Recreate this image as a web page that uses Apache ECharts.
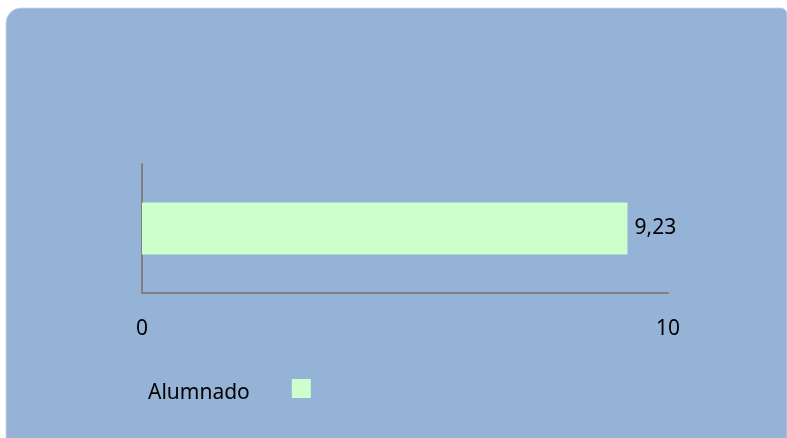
<!DOCTYPE html>
<html>
<head>
<meta charset="utf-8">
<script src="https://cdn.jsdelivr.net/npm/echarts@6/dist/echarts.min.js"></script>
<style>
html,body{margin:0;padding:0;background:#ffffff;}
#chart{width:787px;height:438px;}
</style>
</head>
<body>
<div id="chart"></div>
<script>
const categories = ['Alumnado'];
const seriesName = 'Alumnado';
const values = [9.23];
const xTicks = [0, 10];

const FONT = 'Noto Sans';
const chart = echarts.init(document.getElementById('chart'), null, {renderer: 'canvas'});
chart.setOption({
  animation: false,
  backgroundColor: '#ffffff',
  graphic: [{
    type: 'rect',
    z: -10,
    silent: true,
    shape: {x: 6, y: 8, width: 781, height: 440, r: [15, 6, 0, 0]},
    style: {fill: '#95B3D7', stroke: '#c8d6e8', lineWidth: 0.8}
  }],
  grid: {left: 142, top: 164, right: 119, bottom: 145, containLabel: false},
  legend: {
    data: [seriesName],
    left: 148,
    top: 379,
    padding: 0,
    align: 'right',
    icon: 'rect',
    itemWidth: 19,
    itemHeight: 19,
    formatter: name => '{t|' + name + '}',
    textStyle: {
      fontFamily: FONT, fontSize: 21, color: '#000000',
      rich: {t: {fontFamily: FONT, fontSize: 21, color: '#000000', padding: [10, 37, 0, 0]}}
    }
  },
  xAxis: {
    type: 'value',
    min: xTicks[0],
    max: xTicks[xTicks.length - 1],
    interval: xTicks[1] - xTicks[0],
    axisLine: {show: true, lineStyle: {color: '#808080', width: 2}},
    axisTick: {show: false},
    splitLine: {show: false},
    axisLabel: {
      margin: 26,
      fontFamily: FONT,
      fontSize: 21,
      color: '#000000',
      formatter: v => String(v).replace('.', ',')
    }
  },
  yAxis: {
    type: 'category',
    data: categories,
    axisLine: {show: true, lineStyle: {color: '#808080', width: 2}},
    axisTick: {show: false},
    axisLabel: {show: false},
    splitLine: {show: false}
  },
  series: [{
    name: seriesName,
    type: 'bar',
    data: values,
    barWidth: 52,
    itemStyle: {color: '#CCFFCC'},
    label: {
      show: true,
      position: 'right',
      distance: 7,
      fontFamily: FONT,
      fontSize: 21,
      color: '#000000',
      formatter: p => String(p.value).replace('.', ',')
    }
  }]
});
</script>
</body>
</html>
